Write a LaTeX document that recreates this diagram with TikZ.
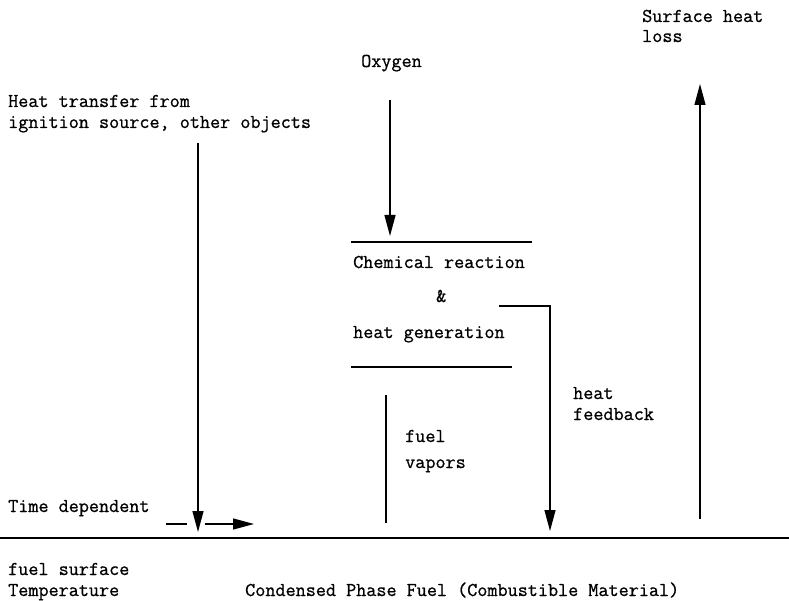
\documentclass[tikz,border=0pt]{standalone}
\usepackage{fontspec}
\newfontfamily\twfont{Latin Modern Mono}[FakeBold=0.8]
\usetikzlibrary{arrows.meta}
\tikzset{
  lbl/.style={anchor=base west, inner sep=0pt, font=\twfont\fontsize{19.6}{22}\selectfont},
  ln/.style={line width=1.3pt},
  arr/.style={line width=1.3pt, -{Triangle[width=11pt,length=21pt]}},
}
\begin{document}
\begin{tikzpicture}[x=1pt,y=-1pt]
\useasboundingbox (0,0) rectangle (789,601);
% labels
\node[lbl] (shl1) at (642,22) {Surface heat};
\node[lbl] (shl2) at (642,42) {loss};
\node[lbl] (oxy) at (361,67) {Oxygen};
\node[lbl] (ht1) at (8,107) {Heat transfer from};
\node[lbl] (ht2) at (8,128) {ignition source, other objects};
\node[lbl] (cr) at (353,268) {Chemical reaction};
\node[lbl] (amp) at (436,302) {\&};
\node[lbl] (hg) at (353,338) {heat generation};
\node[lbl] (hf1) at (573,399) {heat};
\node[lbl] (hf2) at (573,420) {feedback};
\node[lbl] (fv1) at (405,442) {fuel};
\node[lbl] (fv2) at (405,468) {vapors};
\node[lbl] (td) at (8,512) {Time dependent};
\node[lbl] (fs1) at (8,575) {fuel surface};
\node[lbl] (fs2) at (8,596) {Temperature};
\node[lbl] (cpf) at (245,596) {Condensed Phase Fuel (Combustible Material)};
% coordinates
\coordinate (baseL) at (0,538);
\coordinate (baseR) at (789,538);
\coordinate (oxTop) at (390,100);
\coordinate (oxTip) at (390,236);
\coordinate (rTopL) at (351,242);
\coordinate (rTopR) at (532,242);
\coordinate (rBotL) at (351,367);
\coordinate (rBotR) at (512,367);
\coordinate (fbA) at (499,306);
\coordinate (fbB) at (550,306);
\coordinate (fbTip) at (550,531);
\coordinate (fvTop) at (386,395);
\coordinate (fvBot) at (386,523);
\coordinate (htTop) at (198,143);
\coordinate (htTip) at (198,532);
\coordinate (shBot) at (700,519);
\coordinate (shTip) at (700,84);
\coordinate (dA) at (166,524);
\coordinate (dB) at (187,524);
\coordinate (tA) at (205,524);
\coordinate (tB) at (254,524);
% drawing
\draw[line width=1.6pt] (baseL) -- (baseR);
\draw[arr] (oxTop) -- (oxTip);
\draw[ln] (rTopL) -- (rTopR);
\draw[ln] (rBotL) -- (rBotR);
\draw[arr] (fbA) -- (fbB) -- (fbTip);
\draw[ln] (fvTop) -- (fvBot);
\draw[arr] (htTop) -- (htTip);
\draw[arr] (shBot) -- (shTip);
\draw[ln] (dA) -- (dB);
\draw[arr] (tA) -- (tB);
\end{tikzpicture}
\end{document}
